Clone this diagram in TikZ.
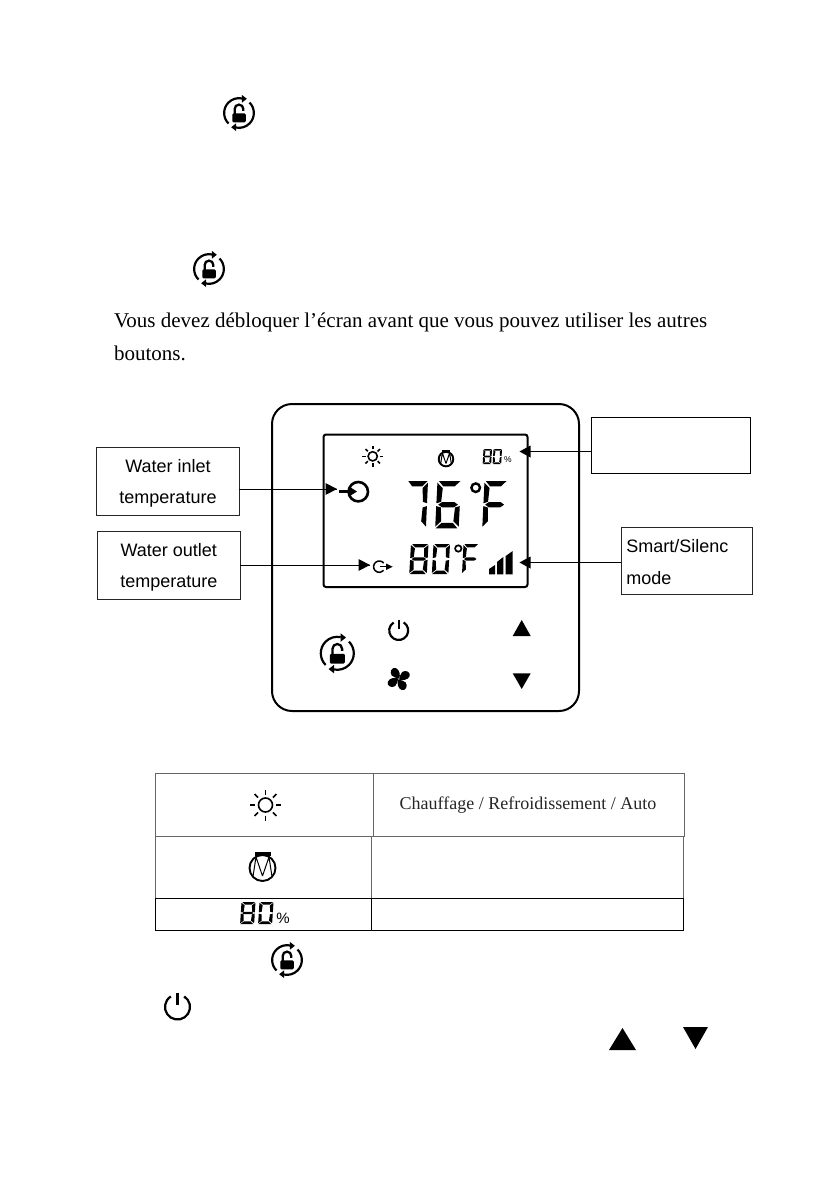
\documentclass[tikz,border=0pt]{standalone}
\usepackage{fontspec}
\setmainfont{Liberation Serif}
\newfontfamily\arialf{Liberation Sans}
\newcommand\segA{\fill (.06,0)--(.98,0)--(.74,.115)--(.26,.115)--cycle;}
\newcommand\segB{\fill (1,.035)--(1,.47)--(.80,.44)--(.76,.15)--cycle;}
\newcommand\segC{\fill (1,.53)--(1,.965)--(.76,.85)--(.80,.56)--cycle;}
\newcommand\segD{\fill (.02,1)--(.94,1)--(.74,.885)--(.26,.885)--cycle;}
\newcommand\segE{\fill (0,.53)--(0,.965)--(.24,.85)--(.20,.56)--cycle;}
\newcommand\segF{\fill (0,.035)--(0,.47)--(.20,.44)--(.24,.15)--cycle;}
\newcommand\segG{\fill (.08,.5)--(.24,.445)--(.76,.445)--(.92,.5)--(.76,.555)--(.24,.555)--cycle;}
\newcommand\sdigit[5]{\begin{scope}[shift={(#1,#2)},xscale=#3,yscale=#4,xslant=-.1]#5\end{scope}}
\newcommand\dEight{\segA\segB\segC\segD\segE\segF\segG}
\newcommand\dZero{\segA\segB\segC\segD\segE\segF}
\newcommand\dSeven{\segA\segB\segC}
\newcommand\dSix{\segA\segC\segD\segE\segF\segG}
\newcommand\dF{\segA\segE\segF\segG}
\tikzset{
 every node/.style={inner sep=0pt,outer sep=0pt},
 lockicon/.pic={
   \draw[line width=2.2pt] (225:16.5) arc[start angle=225,end angle=78,radius=16.5];
   \draw[line width=2.2pt] (45:16.5) arc[start angle=45,end angle=-102,radius=16.5];
   \fill (8.7,15.8) -- (3.3,20) -- (3.3,11.5) -- cycle;
   \fill (-8.7,-15.8) -- (-3.3,-20) -- (-3.3,-11.5) -- cycle;
   \fill[rounded corners=1.2pt] (-7.5,-10.3) rectangle (7.5,-.5);
   \draw[line width=2.3pt] (-4.8,-1) -- (-4.8,4.5) arc[start angle=180,end angle=0,radius=4.8] -- (4.8,2.5);},
 sunicon/.pic={
  \draw[line width=1.6pt] (0,0) circle[radius=7];
  \foreach \a in {0,45,...,315}{\draw[line width=1.6pt] (\a:10.5) -- (\a:15.5);}},
 motoricon/.pic={
  \draw[line width=1.9pt] (0,-1) circle[radius=13];
  \fill (-8,15.5) rectangle (8,11);
  \draw[line width=1pt,line join=bevel] (-9.5,-9.5) -- (-6.5,10) -- (0,-9) -- (6.5,10) -- (9.5,-9.5);},
 powericon/.pic={
  \draw[line width=2.2pt] (58:10) arc[start angle=58,end angle=-238,radius=10];
  \draw[line width=2.2pt] (0,11.5) -- (0,1.5);},
 fanblade/.pic={
  \fill (.6,.4) .. controls (1.8,4) and (1,9.5) .. (-3,11) .. controls (-7,12) and (-9.5,7) .. (-7,3.5) .. controls (-5.5,1.8) and (-2,1) .. (.6,.4) -- cycle;},
 labelbox/.style={draw=black!85,line width=1.1pt,font=\arialf\fontsize{18}{31.7}\selectfont,align=center},
 conn/.style={line width=1pt},
 tablerule/.style={line width=.9pt},
 tablegray/.style={draw=black!60,line width=1pt},
}
\begin{document}
\begin{tikzpicture}[x=1pt,y=1pt,yscale=-1]
\useasboundingbox (0,0) rectangle (839,1191);
% lock icons and text
\pic[scale=.9] at (239,113) {lockicon};
\pic[scale=.9] at (209,269) {lockicon};
\node[anchor=base west,font=\fontsize{21}{26}\selectfont] (bodyA) at (114,327.5) {Vous devez débloquer l’écran avant que vous pouvez utiliser les autres};
\node[anchor=base west,font=\fontsize{21}{26}\selectfont] (bodyB) at (114,360) {boutons.};
% panel
\draw[line width=2pt,rounded corners=20pt] (272,404) rectangle (579,711);
\draw[line width=2pt,rounded corners=2.5pt] (323.5,434.5) rectangle (527.5,587);
% label boxes and connectors
\node[labelbox,minimum width=142.5pt,minimum height=67.5pt] (inletBox) at (168,481.5) {\rule{0pt}{17pt}Water inlet\\temperature};
\node[labelbox,minimum width=142.5pt,minimum height=67.5pt] (outletBox) at (168.8,565.5) {\rule{0pt}{17pt}Water outlet\\temperature};
\node[draw=black,line width=1pt,minimum width=159pt,minimum height=56pt] (topBox) at (671,445.3) {};
\node[labelbox,minimum width=131pt,minimum height=67.5pt,align=left,text width=121pt] (smartBox) at (686.8,561) {\rule{0pt}{15pt}Smart/Silenc\\mode};
\coordinate (inletTip) at (337,489);
\coordinate (outletTip) at (370,565);
\coordinate (topTip) at (519.5,451.5);
\coordinate (smartTip) at (519.5,562.5);
\draw[conn] (inletTip -| inletBox.east) -- (inletTip);
\draw[conn] (outletTip -| outletBox.east) -- (outletTip);
\draw[conn] (topTip -| topBox.west) -- (topTip);
\draw[conn] (smartTip -| smartBox.west) -- (smartTip);
\fill (inletTip) -- ++(-11.5,-6) -- ++(0,12) -- cycle;
\fill (outletTip) -- ++(-11.5,-6) -- ++(0,12) -- cycle;
\fill (topTip) -- ++(11,-6) -- ++(0,12) -- cycle;
\fill (smartTip) -- ++(11,-6) -- ++(0,12) -- cycle;
% LCD contents
\pic[scale=.66] at (372.7,456.3) {sunicon};
\pic[scale=.56] at (446,458.5) {motoricon};
\sdigit{483.5}{449}{8.5}{15}{\dEight}
\sdigit{493.5}{449}{8.5}{15}{\dZero}
\node[font=\arialf\fontsize{8.5}{10}\selectfont] (pctTop) at (508,460) {\%};
\draw[line width=2.6pt] (358.3,491.7) circle[radius=9.7];
\fill (339,489.7) rectangle (350,493.3);
\fill (357,491.5) -- (349,486.5) -- (349,496.5) -- cycle;
\draw[line width=1.5pt] (379.3,566.7) ++(-40:5.7) arc[start angle=-40,end angle=-320,radius=5.7];
\draw[line width=1.4pt] (379.5,566.7) -- (388,566.7);
\fill (392.7,566.7) -- (386,563.5) -- (386,570) -- cycle;
\sdigit{407}{481}{21}{47.3}{\dSeven}
\sdigit{437.5}{481}{23.5}{47.3}{\dSix}
\draw[line width=2.4pt] (475.7,487.7) circle[radius=4.3];
\sdigit{484.5}{481}{22.5}{47.3}{\dF}
\sdigit{411}{544}{17.5}{30}{\dEight}
\sdigit{433.5}{544}{16.5}{30}{\dZero}
\draw[line width=1.7pt] (458.3,548.5) circle[radius=3.2];
\sdigit{463.5}{544}{15}{30}{\dF}
\fill (489,574.3) -- (489,569) -- (495,565) -- (495,574.3) -- cycle;
\fill (497,574.3) -- (497,562) -- (503.3,557) -- (503.3,574.3) -- cycle;
\fill (505.7,574.3) -- (505.7,556) -- (512.7,551) -- (512.7,574.3) -- cycle;
% buttons
\pic[scale=.95] at (398.7,630.5) {powericon};
\fill (521.7,620) -- (512.7,636) -- (530.7,636) -- cycle;
\fill (521.7,689) -- (512.7,673.3) -- (530.7,673.3) -- cycle;
\pic at (337.3,653.3) {lockicon};
\foreach \r in {0,90,180,270}{\pic[rotate=\r] at (398.7,679) {fanblade};}
% table
\draw[tablegray] (155,773) -- (684,773);
\draw[tablegray] (155,836.5) -- (684,836.5);
\draw[tablegray] (155,898) -- (684,898);
\draw[tablegray] (684,773) -- (684,836.5);
\draw[tablegray] (373,773) -- (373,836.5);
\draw[tablegray] (371.5,836.5) -- (371.5,898);
\draw[tablegray] (155,773) -- (155,898);
\draw[tablegray] (683.5,836.5) -- (683.5,898);
\draw[tablerule] (155,898) rectangle (683.5,930.5);
\draw[tablerule] (371.5,898) -- (371.5,930.5);
\pic at (265.5,805) {sunicon};
\pic at (262.5,867) {motoricon};
\node[font=\fontsize{18}{20}\selectfont,text=black!85] (modeText) at (528,805.5) {Chauffage / Refroidissement / Auto};
\sdigit{241.5}{902}{14}{22}{\dEight}
\sdigit{259.5}{902}{14}{22}{\dZero}
\node[font=\arialf\fontsize{15}{16}\selectfont] (pctTable) at (283,918) {\%};
% bottom icons
\pic[scale=.9] at (287,960) {lockicon};
\pic[scale=1.25] at (177.5,1007) {powericon};
\fill (622.5,1028) -- (609,1050) -- (636,1050) -- cycle;
\fill (695.5,1049) -- (683,1027) -- (708,1027) -- cycle;
\end{tikzpicture}
\end{document}
